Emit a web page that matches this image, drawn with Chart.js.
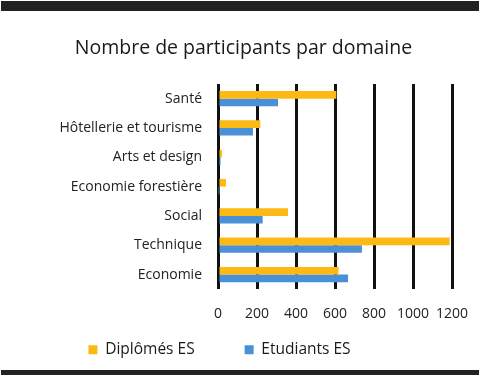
<!DOCTYPE html>
<html lang="fr">
<head>
<meta charset="utf-8">
<title>Nombre de participants par domaine</title>
<script src="https://cdn.jsdelivr.net/npm/chart.js@4"></script>
<style>
  html, body { margin: 0; padding: 0; background: #fff; }
  #wrap { position: relative; width: 480px; height: 376px; overflow: hidden; }
  #wrap canvas { position: absolute; left: 0; top: 0; }
  .band { position: absolute; left: 1px; width: 478px; background: #222; }
  #title {
    position: absolute; left: 0; top: 35px; width: 487px; text-align: center;
    font-family: 'Open Sans', sans-serif; font-size: 19.5px; line-height: 24px; color: #1a1a1a;
  }
</style>
</head>
<body>
<div id="wrap">
  <canvas id="domaines"></canvas>
  <div class="band" style="top:1px;height:10px"></div>
  <div id="title">Nombre de participants par domaine</div>
  <div class="band" style="top:370px;height:5px"></div>
</div>
<script>
// categories and values
var domaines = ['Santé', 'Hôtellerie et tourisme', 'Arts et design', 'Economie forestière', 'Social', 'Technique', 'Economie'];
var diplomes = [607, 217, 20, 41, 359, 1188, 618];
var etudiants = [308, 179, 13, 3, 229, 738, 667];
var xTicks = [0, 200, 400, 600, 800, 1000, 1200];

Chart.defaults.font.family = "'Open Sans', sans-serif";
Chart.defaults.color = '#222';

// the legend needs wide gaps between its items (labels.padding),
// which also pushes its text down; open its box upwards so the text
// lands right under the axis labels
var legendLift = {
  id: 'legendLift',
  afterLayout: function(chart) {
    chart.legend.top -= 46;
  }
};

var chart = new Chart('domaines', {
  type: 'bar',
  data: {
    labels: domaines,
    datasets: [
      {
        label: 'Diplômés ES',
        data: diplomes,
        backgroundColor: '#fdb913',
        categoryPercentage: 0.52,
        barPercentage: 1
      },
      {
        label: 'Etudiants ES',
        data: etudiants,
        backgroundColor: '#4a90d6',
        categoryPercentage: 0.52,
        barPercentage: 1
      }
    ]
  },
  options: {
    indexAxis: 'y',
    responsive: true,
    maintainAspectRatio: false,
    animation: false,
    layout: {
      padding: { top: 84, right: 28, bottom: 8, left: -13 }
    },
    scales: {
      x: {
        min: xTicks[0],
        max: xTicks[xTicks.length - 1],
        afterBuildTicks: function(scale) {
          scale.ticks = xTicks.map(function(v) { return { value: v }; });
        },
        // last label may hang into the right margin
        afterFit: function(scale) { scale.paddingRight = 0; },
        ticks: {
          padding: 16,
          autoSkip: false,
          maxRotation: 0,
          minRotation: 0,
          font: { size: 14 },
          color: '#222',
          callback: function(value) { return String(value); }
        },
        grid: {
          color: '#111',
          lineWidth: 3,
          drawTicks: false
        },
        border: { display: false }
      },
      y: {
        ticks: {
          padding: 16,
          font: { size: 14 },
          color: '#222'
        },
        grid: { display: false, drawTicks: false },
        border: { display: false },
        afterFit: function(scale) { scale.width = 231; }
      }
    },
    plugins: {
      legend: {
        position: 'bottom',
        maxHeight: 30,
        labels: {
          boxWidth: 9,
          boxHeight: 9,
          padding: 50,
          font: { size: 15.5 },
          color: '#1a1a1a'
        }
      },
      tooltip: { enabled: false }
    }
  },
  plugins: [legendLift]
});
</script>
</body>
</html>
